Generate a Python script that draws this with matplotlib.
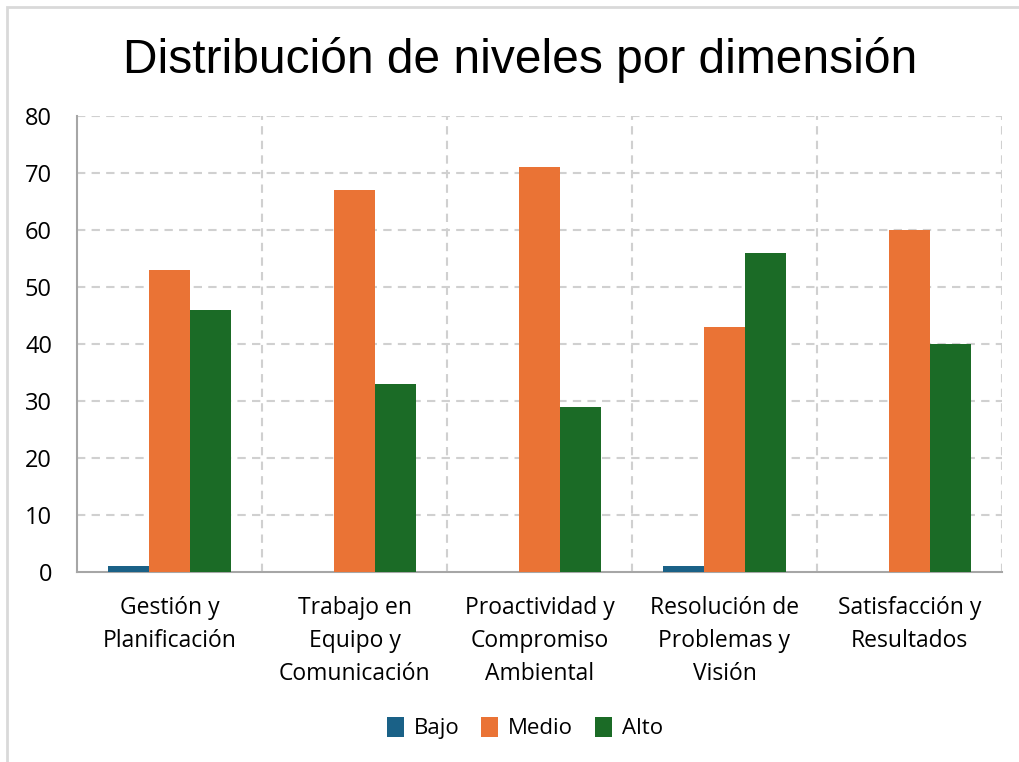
import numpy as np
from matplotlib import pyplot as plt
from matplotlib.patches import Rectangle

# Datos
dimensiones=['Gestión y\nPlanificación','Trabajo en\nEquipo y\nComunicación',
             'Proactividad y\nCompromiso\nAmbiental','Resolución de\nProblemas y\nVisión',
             'Satisfacción y\nResultados']
niveles=['Bajo','Medio','Alto']
bajo=[1,0,0,1,0]
medio=[53,67,71,43,60]
alto=[46,33,29,56,40]
colores=['#1a6187','#ea7335','#1b6b26']

fig=plt.figure(figsize=(10.19,7.62),dpi=100)
W,H=1019.,762.
ax=fig.add_axes([77/W,1-572/H,925/W,456/H])

x=np.arange(len(dimensiones))+0.5
w=0.222
for k,(serie,c) in enumerate(zip([bajo,medio,alto],colores)):
    ax.bar(x+(k-1)*w,serie,width=w,color=c,label=niveles[k],zorder=3)

ax.set_xlim(0,5)
ax.set_ylim(0,80)
ax.set_yticks(np.arange(0,81,10))
ax.set_xticks(x)
ax.set_xticklabels(dimensiones,fontsize=16.5,family='Open Sans',linespacing=1.5)
for t in ax.get_yticklabels():
    t.set_fontsize(17)
    t.set_family('Open Sans')
ax.tick_params(axis='y',length=0,pad=18)
ax.tick_params(axis='x',length=0,pad=17)
for yv in np.arange(10,81,10):
    ax.axhline(yv,color='#d0d0d0',ls=(0,(4,3)),lw=1.5,zorder=1)
for xv in range(1,6):
    ax.axvline(xv,color='#d0d0d0',ls=(0,(4,3)),lw=1.5,zorder=1)
for s in ['top','right']:
    ax.spines[s].set_visible(False)
ax.spines['left'].set_color('#a6a6a6')
ax.spines['bottom'].set_color('#a6a6a6')
ax.spines['left'].set_linewidth(1.5)
ax.spines['bottom'].set_linewidth(1.5)

fig.text(520/W,1-73/H,'Distribución de niveles por dimensión',fontsize=34.5,
         family='Liberation Sans',ha='center',va='baseline')

fig.legend(loc='center',bbox_to_anchor=(525/W,1-728/H),ncol=3,frameon=False,
           prop={'family':'Open Sans','size':16},handlelength=0.75,handleheight=1.0,
           handletextpad=0.45,columnspacing=1.0)

fig.patches.append(Rectangle((7/W,-0.1),1.2,1.1-7/H,transform=fig.transFigure,
                             fill=False,edgecolor='#d9d9d9',lw=2))

plt.savefig('out.png',dpi=100)
